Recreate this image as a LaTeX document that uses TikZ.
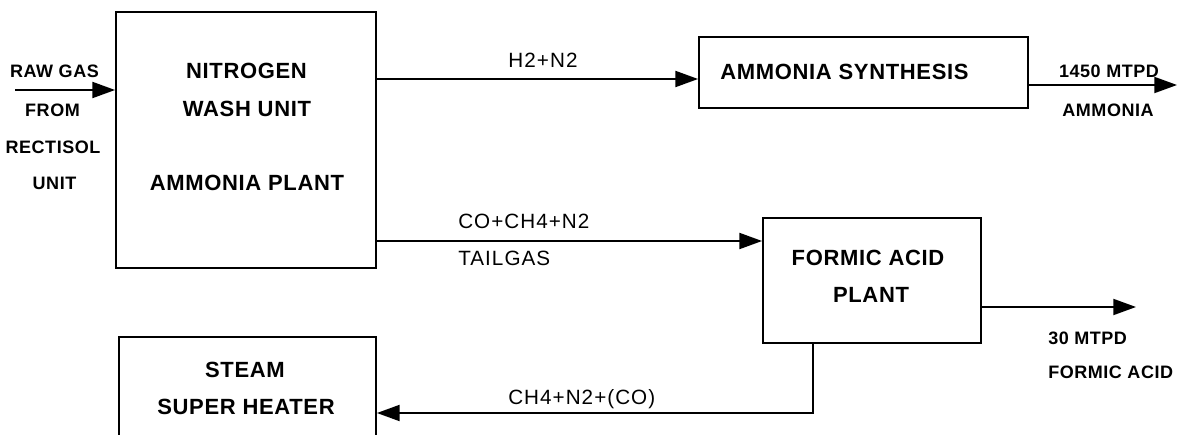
\documentclass[tikz,border=0pt]{standalone}
\usepackage{fontspec}
\setmainfont{Liberation Sans}
\newfontfamily\boldlab[LetterSpace=3]{Liberation Sans}
\newfontfamily\reglab[LetterSpace=5]{Liberation Sans}
\usetikzlibrary{arrows.meta}
\begin{document}
\begin{tikzpicture}[x=0.75pt,y=-0.75pt,
  box/.style={draw, line width=1.4pt, inner sep=0pt, fill=none},
  bl/.style={font=\boldlab\bfseries\fontsize{16.5}{18}\selectfont, anchor=base, inner sep=0pt},
  sl/.style={font=\boldlab\bfseries\fontsize{13.5}{15}\selectfont, anchor=base, inner sep=0pt},
  rl/.style={font=\reglab\fontsize{15.5}{18}\selectfont, anchor=base, inner sep=0pt},
  flow/.style={line width=1.4pt, -{Triangle[length=17pt,width=12pt]}}]
\useasboundingbox (0,0) rectangle (1178,435);
\clip (0,0) rectangle (1178,435);
\fill[white] (0,0) rectangle (1178,435);
% boxes
\node[box, minimum width=195pt, minimum height=192pt] (nwu) at (246,140) {};
\node[box, minimum width=246.75pt, minimum height=53.25pt] (syn) at (863.5,72.5) {};
\node[box, minimum width=163.5pt, minimum height=93.75pt] (fa) at (872,280.5) {};
\node[box, minimum width=192.75pt, minimum height=92.25pt] (sh) at (247.5,398.5) {};
% box labels
\node[bl] (t1) at (246.5,78.5) {NITROGEN};
\node[bl] (t2) at (247,116.5) {WASH UNIT};
\node[bl] (t3) at (247,190.5) {AMMONIA PLANT};
\node[bl] (t4) at (844.5,79.5) {AMMONIA SYNTHESIS};
\node[bl] (t5) at (868,265.5) {FORMIC ACID};
\node[bl] (t6) at (871,302.5) {PLANT};
\node[bl] (t7) at (245,377.5) {STEAM};
\node[bl] (t8) at (246,414.5) {SUPER HEATER};
% side labels
\node[sl] (s1) at (54.5,78) {RAW GAS};
\node[sl] (s2) at (52.5,117) {FROM};
\node[sl] (s3) at (53,153) {RECTISOL};
\node[sl] (s4) at (54.5,189) {UNIT};
\node[sl] (s5) at (1109,78) {1450 MTPD};
\node[sl] (s6) at (1108,117) {AMMONIA};
\node[sl, anchor=base west] (s7) at (1048,344) {30 MTPD};
\node[sl, anchor=base west] (s8) at (1048,378) {FORMIC ACID};
% stream labels
\node[rl] (r1) at (543,68) {H2+N2};
\node[rl, anchor=base west] (r2) at (458,228) {CO+CH4+N2};
\node[rl, anchor=base west] (r3) at (458,265) {TAILGAS};
\node[rl, anchor=base west] (r4) at (508,404) {CH4+N2+(CO)};
% connectors
\coordinate (rawin) at (15,90);
\draw[flow] (rawin) -- (rawin -| nwu.west);
\coordinate (h2y) at (0,79);
\draw[flow] (nwu.east |- h2y) -- (syn.west |- h2y);
\coordinate (nh3out) at (1177,85);
\draw[flow] (syn.east |- nh3out) -- (nh3out);
\coordinate (tgy) at (0,241);
\draw[flow] (nwu.east |- tgy) -- (fa.west |- tgy);
\coordinate (faout) at (1136,307);
\draw[flow] (fa.east |- faout) -- (faout);
\coordinate (recy) at (813,413);
\draw[flow] (fa.south -| recy) -- (recy) -- (sh.east |- recy);
\end{tikzpicture}
\end{document}
